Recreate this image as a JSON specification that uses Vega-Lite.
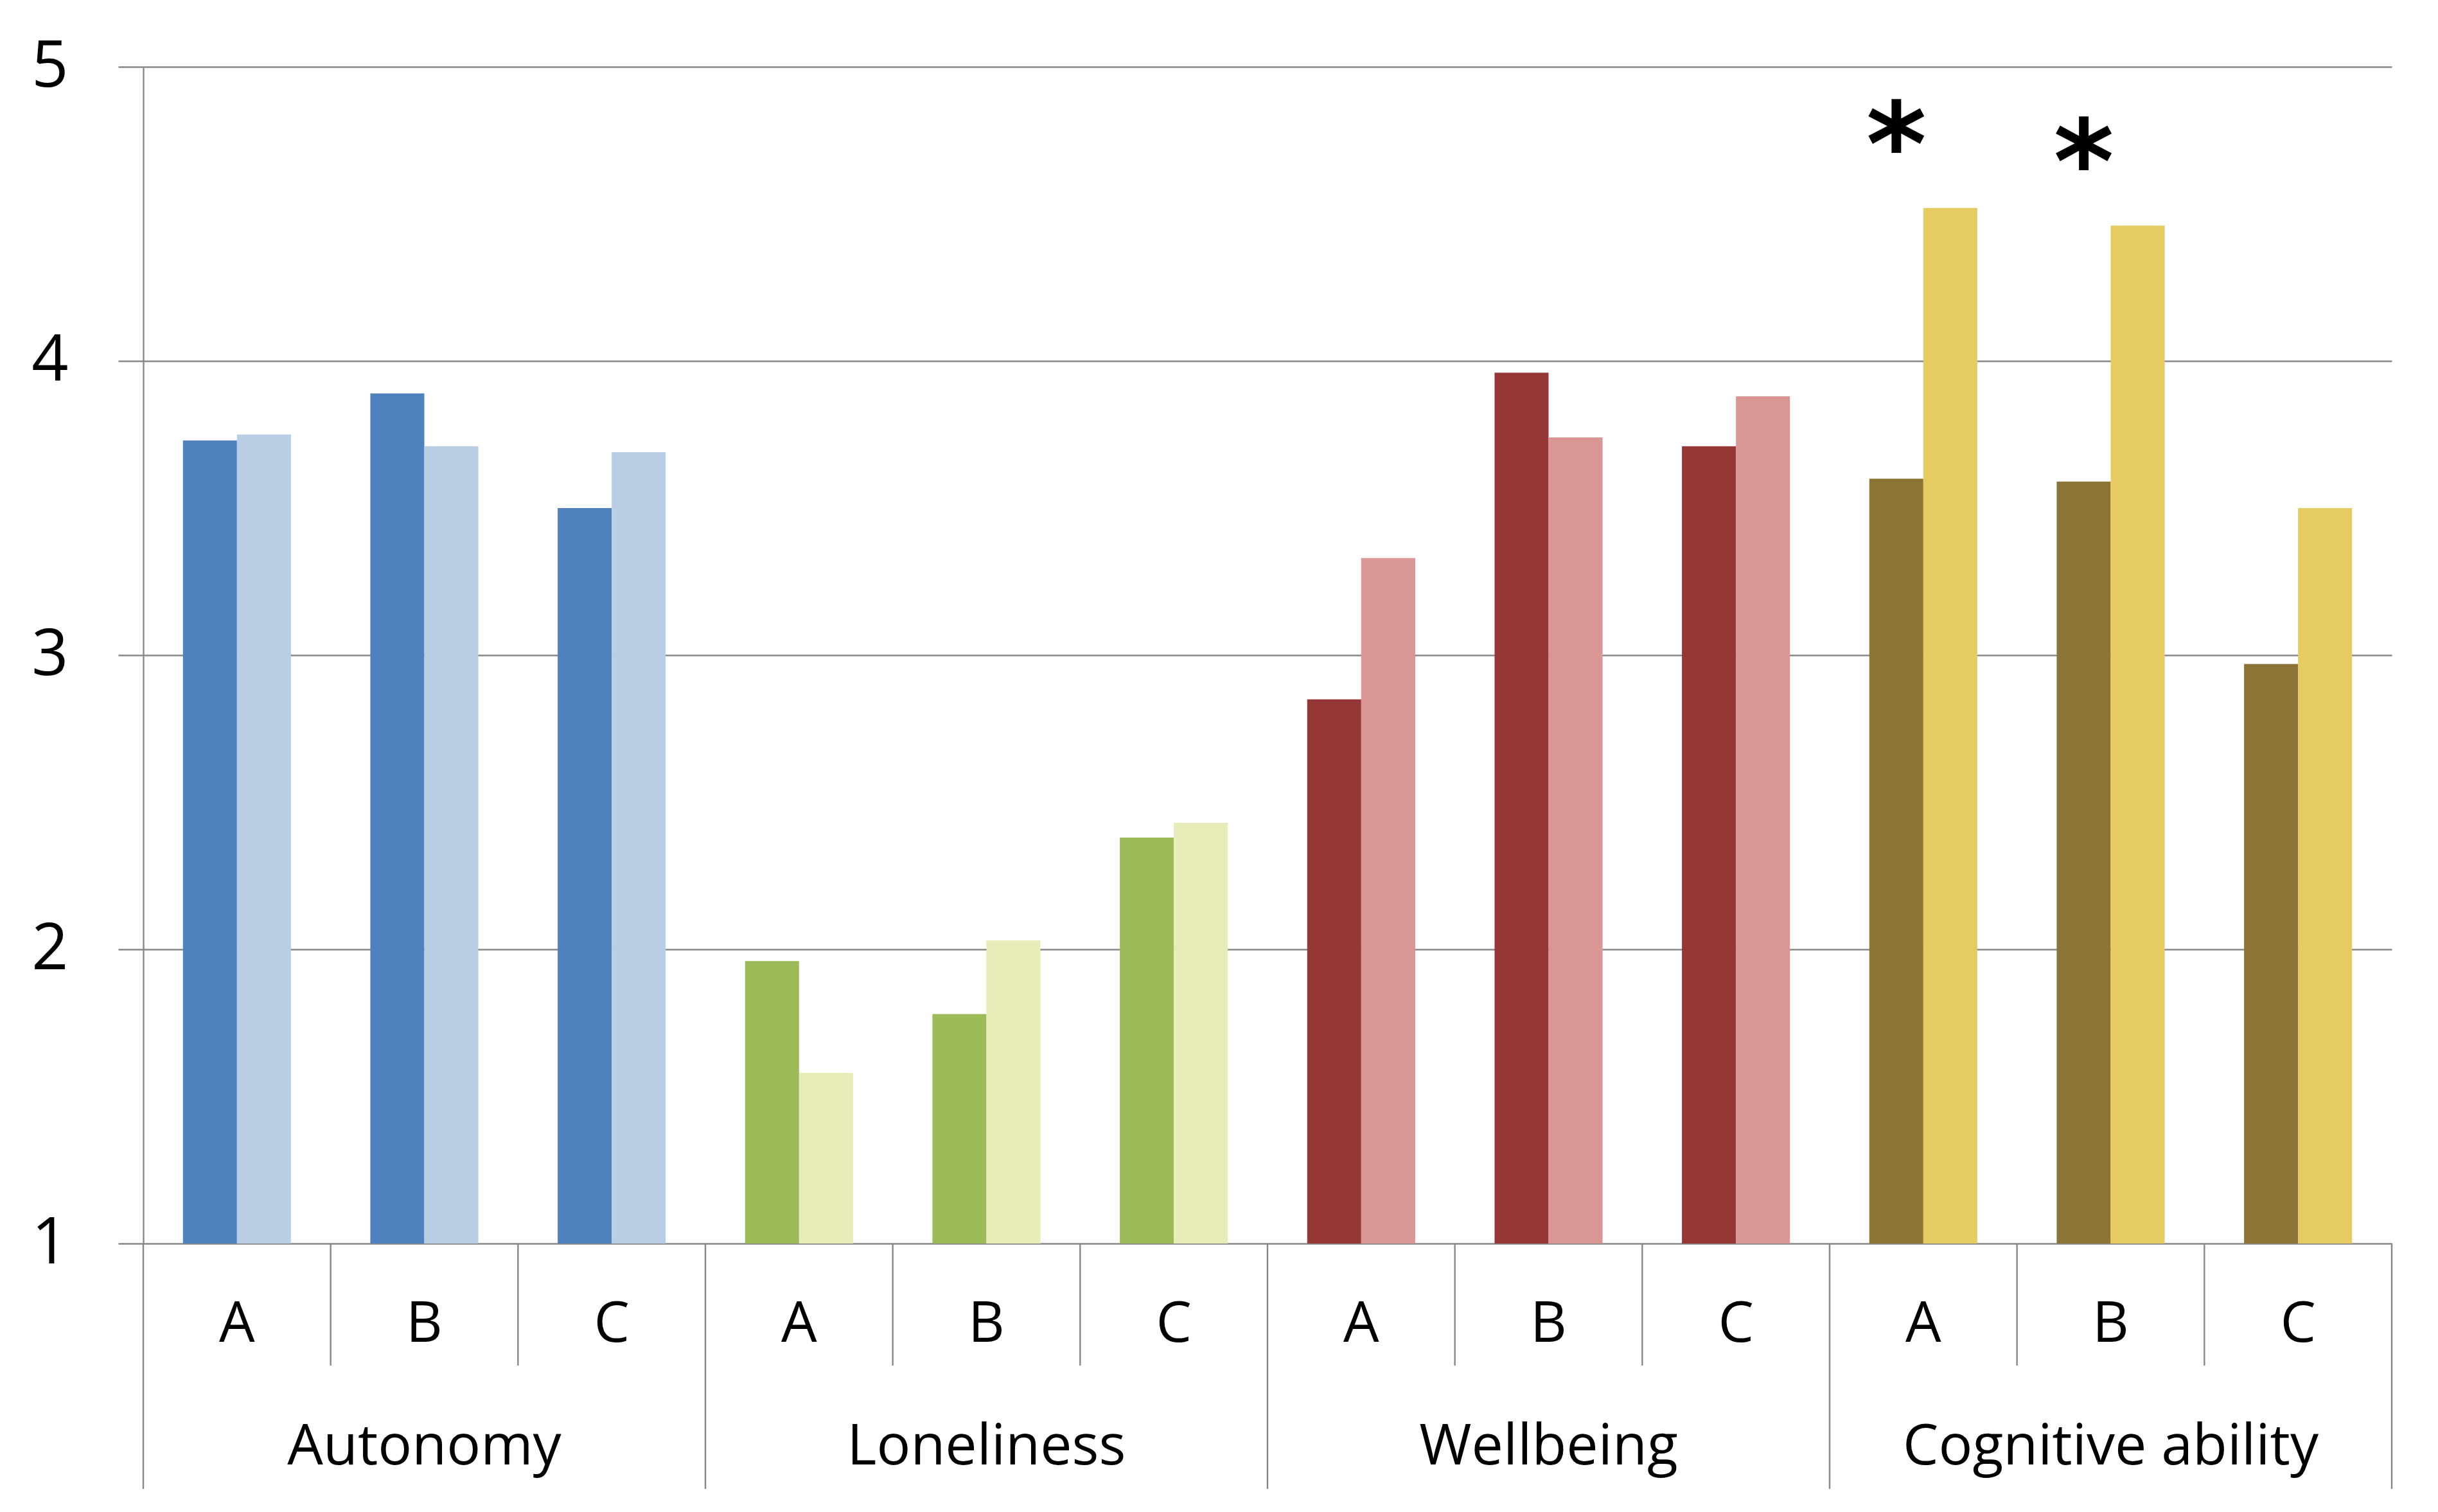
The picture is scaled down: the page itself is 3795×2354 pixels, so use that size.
{
  "$schema": "https://vega.github.io/schema/vega-lite/v6.json",
  "autosize": "none",
  "width": 3500,
  "height": 1832,
  "padding": {"left": 223, "top": 104, "right": 72, "bottom": 418},
  "background": "white",
  "config": {
    "view": {"stroke": null},
    "font": "Open Sans"
  },
  "data": {
    "values": [
      {"group": "Autonomy", "item": "A", "cat": "Autonomy A", "period": "1", "series": "Autonomy 1", "value": 3.73, "sig": ""},
      {"group": "Autonomy", "item": "A", "cat": "Autonomy A", "period": "2", "series": "Autonomy 2", "value": 3.75, "sig": ""},
      {"group": "Autonomy", "item": "B", "cat": "Autonomy B", "period": "1", "series": "Autonomy 1", "value": 3.89, "sig": ""},
      {"group": "Autonomy", "item": "B", "cat": "Autonomy B", "period": "2", "series": "Autonomy 2", "value": 3.71, "sig": ""},
      {"group": "Autonomy", "item": "C", "cat": "Autonomy C", "period": "1", "series": "Autonomy 1", "value": 3.50, "sig": ""},
      {"group": "Autonomy", "item": "C", "cat": "Autonomy C", "period": "2", "series": "Autonomy 2", "value": 3.69, "sig": ""},
      {"group": "Loneliness", "item": "A", "cat": "Loneliness A", "period": "1", "series": "Loneliness 1", "value": 1.96, "sig": ""},
      {"group": "Loneliness", "item": "A", "cat": "Loneliness A", "period": "2", "series": "Loneliness 2", "value": 1.58, "sig": ""},
      {"group": "Loneliness", "item": "B", "cat": "Loneliness B", "period": "1", "series": "Loneliness 1", "value": 1.78, "sig": ""},
      {"group": "Loneliness", "item": "B", "cat": "Loneliness B", "period": "2", "series": "Loneliness 2", "value": 2.03, "sig": ""},
      {"group": "Loneliness", "item": "C", "cat": "Loneliness C", "period": "1", "series": "Loneliness 1", "value": 2.38, "sig": ""},
      {"group": "Loneliness", "item": "C", "cat": "Loneliness C", "period": "2", "series": "Loneliness 2", "value": 2.43, "sig": ""},
      {"group": "Wellbeing", "item": "A", "cat": "Wellbeing A", "period": "1", "series": "Wellbeing 1", "value": 2.85, "sig": ""},
      {"group": "Wellbeing", "item": "A", "cat": "Wellbeing A", "period": "2", "series": "Wellbeing 2", "value": 3.33, "sig": ""},
      {"group": "Wellbeing", "item": "B", "cat": "Wellbeing B", "period": "1", "series": "Wellbeing 1", "value": 3.96, "sig": ""},
      {"group": "Wellbeing", "item": "B", "cat": "Wellbeing B", "period": "2", "series": "Wellbeing 2", "value": 3.74, "sig": ""},
      {"group": "Wellbeing", "item": "C", "cat": "Wellbeing C", "period": "1", "series": "Wellbeing 1", "value": 3.71, "sig": ""},
      {"group": "Wellbeing", "item": "C", "cat": "Wellbeing C", "period": "2", "series": "Wellbeing 2", "value": 3.88, "sig": ""},
      {"group": "Cognitive ability", "item": "A", "cat": "Cognitive ability A", "period": "1", "series": "Cognitive ability 1", "value": 3.60, "sig": ""},
      {"group": "Cognitive ability", "item": "A", "cat": "Cognitive ability A", "period": "2", "series": "Cognitive ability 2", "value": 4.52, "sig": "*"},
      {"group": "Cognitive ability", "item": "B", "cat": "Cognitive ability B", "period": "1", "series": "Cognitive ability 1", "value": 3.59, "sig": ""},
      {"group": "Cognitive ability", "item": "B", "cat": "Cognitive ability B", "period": "2", "series": "Cognitive ability 2", "value": 4.46, "sig": "*"},
      {"group": "Cognitive ability", "item": "C", "cat": "Cognitive ability C", "period": "1", "series": "Cognitive ability 1", "value": 2.97, "sig": ""},
      {"group": "Cognitive ability", "item": "C", "cat": "Cognitive ability C", "period": "2", "series": "Cognitive ability 2", "value": 3.50, "sig": ""}
    ]
  },
  "encoding": {
    "x": {
      "field": "cat",
      "type": "nominal",
      "sort": ["Autonomy A", "Autonomy B", "Autonomy C", "Loneliness A", "Loneliness B", "Loneliness C", "Wellbeing A", "Wellbeing B", "Wellbeing C", "Cognitive ability A", "Cognitive ability B", "Cognitive ability C"],
      "scale": {"paddingInner": 0, "paddingOuter": 0},
      "axis": {
        "title": null,
        "orient": "bottom",
        "domain": false,
        "ticks": false,
        "tickSize": 0,
        "labelAngle": 0,
        "labelPadding": 126,
        "labelBaseline": "middle",
        "labelFontSize": 88,
        "labelFont": "Open Sans",
        "labelColor": "#000000",
        "labelExpr": "slice(datum.label, -1)"
      }
    }
  },
  "layer": [
    {
      "mark": {"type": "bar"},
      "encoding": {
        "xOffset": {"field": "period", "type": "nominal", "scale": {"paddingInner": 0, "paddingOuter": 0.735}},
        "y": {
          "field": "value",
          "type": "quantitative",
          "scale": {"domain": [1, 5], "nice": false, "zero": false},
          "axis": {
            "title": null,
            "values": [1, 2, 3, 4, 5],
            "format": "d",
            "grid": true,
            "gridColor": "#878787",
            "gridWidth": 2.4,
            "domain": true,
            "domainColor": "#878787",
            "domainWidth": 2.4,
            "ticks": true,
            "tickSize": 39,
            "tickColor": "#878787",
            "tickWidth": 2.4,
            "labelFontSize": 100,
            "labelFont": "Open Sans",
            "labelColor": "#000000",
            "labelPadding": 78,
            "labelBaseline": "middle"
          }
        },
        "y2": {"datum": 1},
        "color": {
          "field": "series",
          "type": "nominal",
          "legend": null,
          "scale": {
            "domain": ["Autonomy 1", "Autonomy 2", "Loneliness 1", "Loneliness 2", "Wellbeing 1", "Wellbeing 2", "Cognitive ability 1", "Cognitive ability 2"],
            "range": ["#4F81BD", "#B9CDE5", "#9BBB59", "#E8ECB8", "#953735", "#D99694", "#8B7436", "#E6CA62"]
          }
        }
      }
    },
    {
      "transform": [{"filter": "datum.period == '1' && datum.item != 'A'"}],
      "mark": {"type": "rule", "color": "#878787", "strokeWidth": 2.4},
      "encoding": {
        "x": {"field": "cat", "type": "nominal", "bandPosition": 0, "sort": ["Autonomy A", "Autonomy B", "Autonomy C", "Loneliness A", "Loneliness B", "Loneliness C", "Wellbeing A", "Wellbeing B", "Wellbeing C", "Cognitive ability A", "Cognitive ability B", "Cognitive ability C"]},
        "y": {"datum": 1, "type": "quantitative"},
        "y2": {"datum": 0.585}
      }
    },
    {
      "transform": [{"filter": "datum.period == '1' && datum.item == 'A'"}],
      "mark": {"type": "rule", "color": "#878787", "strokeWidth": 2.4},
      "encoding": {
        "x": {"field": "cat", "type": "nominal", "bandPosition": 0, "sort": ["Autonomy A", "Autonomy B", "Autonomy C", "Loneliness A", "Loneliness B", "Loneliness C", "Wellbeing A", "Wellbeing B", "Wellbeing C", "Cognitive ability A", "Cognitive ability B", "Cognitive ability C"]},
        "y": {"datum": 1, "type": "quantitative"},
        "y2": {"datum": 0.166}
      }
    },
    {
      "transform": [{"filter": "datum.period == '1' && datum.cat == 'Cognitive ability C'"}],
      "mark": {"type": "rule", "color": "#878787", "strokeWidth": 2.4},
      "encoding": {
        "x": {"field": "cat", "type": "nominal", "bandPosition": 1, "sort": ["Autonomy A", "Autonomy B", "Autonomy C", "Loneliness A", "Loneliness B", "Loneliness C", "Wellbeing A", "Wellbeing B", "Wellbeing C", "Cognitive ability A", "Cognitive ability B", "Cognitive ability C"]},
        "y": {"datum": 1, "type": "quantitative"},
        "y2": {"datum": 0.166}
      }
    },
    {
      "transform": [{"filter": "datum.period == '1' && datum.item == 'B'"}],
      "mark": {"type": "text", "fontSize": 88, "font": "Open Sans", "color": "#000000", "baseline": "middle", "align": "center"},
      "encoding": {
        "y": {"datum": 0.306, "type": "quantitative"},
        "text": {"field": "group"}
      }
    },
    {
      "transform": [{"filter": "datum.sig == '*'"}],
      "mark": {"type": "text", "fontSize": 180, "font": "DejaVu Sans", "fontWeight": "bold", "color": "#000000", "baseline": "alphabetic", "align": "center", "dy": -36},
      "encoding": {
        "xOffset": {"datum": "1"},
        "y": {"field": "value", "type": "quantitative"},
        "text": {"field": "sig"}
      }
    }
  ]
}
